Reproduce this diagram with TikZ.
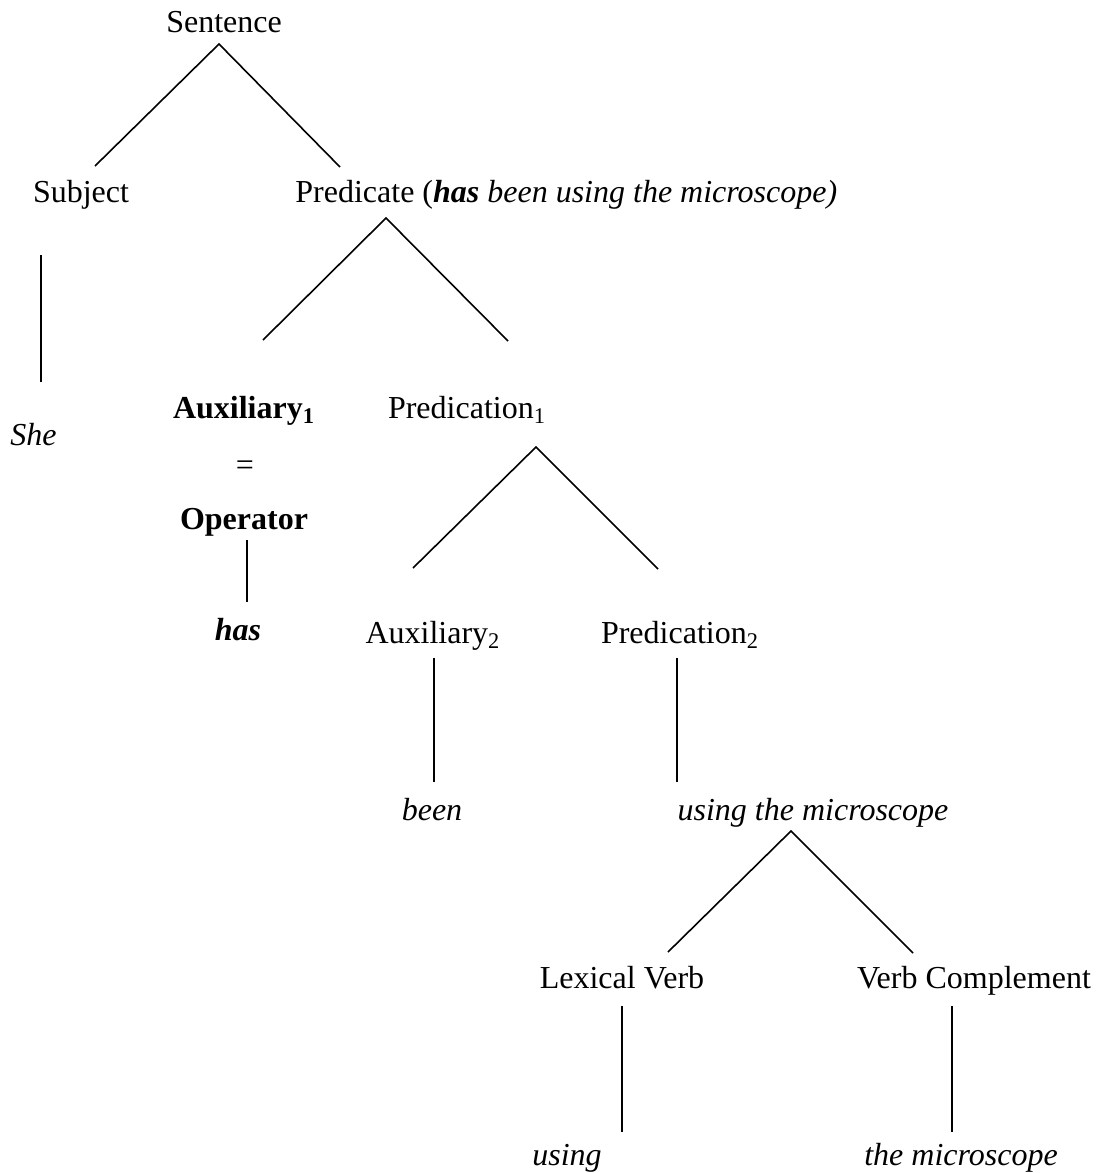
\documentclass[tikz,border=0pt]{standalone}
\usepackage{fontspec}
\setmainfont{Liberation Serif}
\begin{document}
\begin{tikzpicture}[x=0.5pt,y=-0.5pt,
  lbl/.style={anchor=base,inner sep=0pt,font=\fontsize{16}{19}\selectfont},
  branch/.style={line width=0.8pt,black}]
\useasboundingbox (0,0) rectangle (1105,1173);
% text nodes
\node[lbl] (sent) at (224,32) {Sentence};
\node[lbl] (subj) at (81,202) {Subject};
\node[lbl,anchor=base west] (pred) at (295,202) {Predicate (\textbf{\textit{has}} \textit{been using the microscope)}};
\node[lbl,anchor=base west] (she) at (10,445) {\textit{She}};
\node[lbl] (aux1) at (244,418) {\textbf{Auxiliary\textsubscript{1}}};
\node[lbl] (predn1) at (467,418) {Predication\textsubscript{1}};
\node[lbl] (eq) at (245,475) {=};
\node[lbl] (oper) at (244,529) {\textbf{Operator}};
\node[lbl] (has) at (238,640) {\textbf{\textit{has}}};
\node[lbl] (aux2) at (433,643) {Auxiliary\textsubscript{2}};
\node[lbl] (predn2) at (680,643) {Predication\textsubscript{2}};
\node[lbl] (been) at (432,820) {\textit{been}};
\node[lbl] (utm) at (813,820) {\textit{using the microscope}};
\node[lbl] (lex) at (622,988) {Lexical Verb};
\node[lbl] (vc) at (974,988) {Verb Complement};
\node[lbl] (using) at (567,1165) {\textit{using}};
\node[lbl] (tm) at (961,1165) {\textit{the microscope}};
% branch points
\coordinate (s-top) at (219,44);
\coordinate (s-l) at (95,166);
\coordinate (s-r) at (340,167);
\coordinate (sub-t) at (41,255);
\coordinate (sub-b) at (41,382);
\coordinate (p-top) at (386,218);
\coordinate (p-l) at (263,340);
\coordinate (p-r) at (508,341);
\coordinate (p1-top) at (536,447);
\coordinate (p1-l) at (413,568);
\coordinate (p1-r) at (658,569);
\coordinate (op-t) at (247,540);
\coordinate (op-b) at (247,602);
\coordinate (a2-t) at (434,658);
\coordinate (a2-b) at (434,782);
\coordinate (p2-t) at (677,658);
\coordinate (p2-b) at (677,782);
\coordinate (u-top) at (791,831);
\coordinate (u-l) at (668,952);
\coordinate (u-r) at (913,953);
\coordinate (lv-t) at (622,1006);
\coordinate (lv-b) at (622,1132);
\coordinate (vc-t) at (952,1006);
\coordinate (vc-b) at (952,1132);
% connectors
\draw[branch] (s-l) -- (s-top) -- (s-r);
\draw[branch] (sub-t) -- (sub-b);
\draw[branch] (p-l) -- (p-top) -- (p-r);
\draw[branch] (p1-l) -- (p1-top) -- (p1-r);
\draw[branch] (op-t) -- (op-b);
\draw[branch] (a2-t) -- (a2-b);
\draw[branch] (p2-t) -- (p2-b);
\draw[branch] (u-l) -- (u-top) -- (u-r);
\draw[branch] (lv-t) -- (lv-b);
\draw[branch] (vc-t) -- (vc-b);
\end{tikzpicture}
\end{document}
